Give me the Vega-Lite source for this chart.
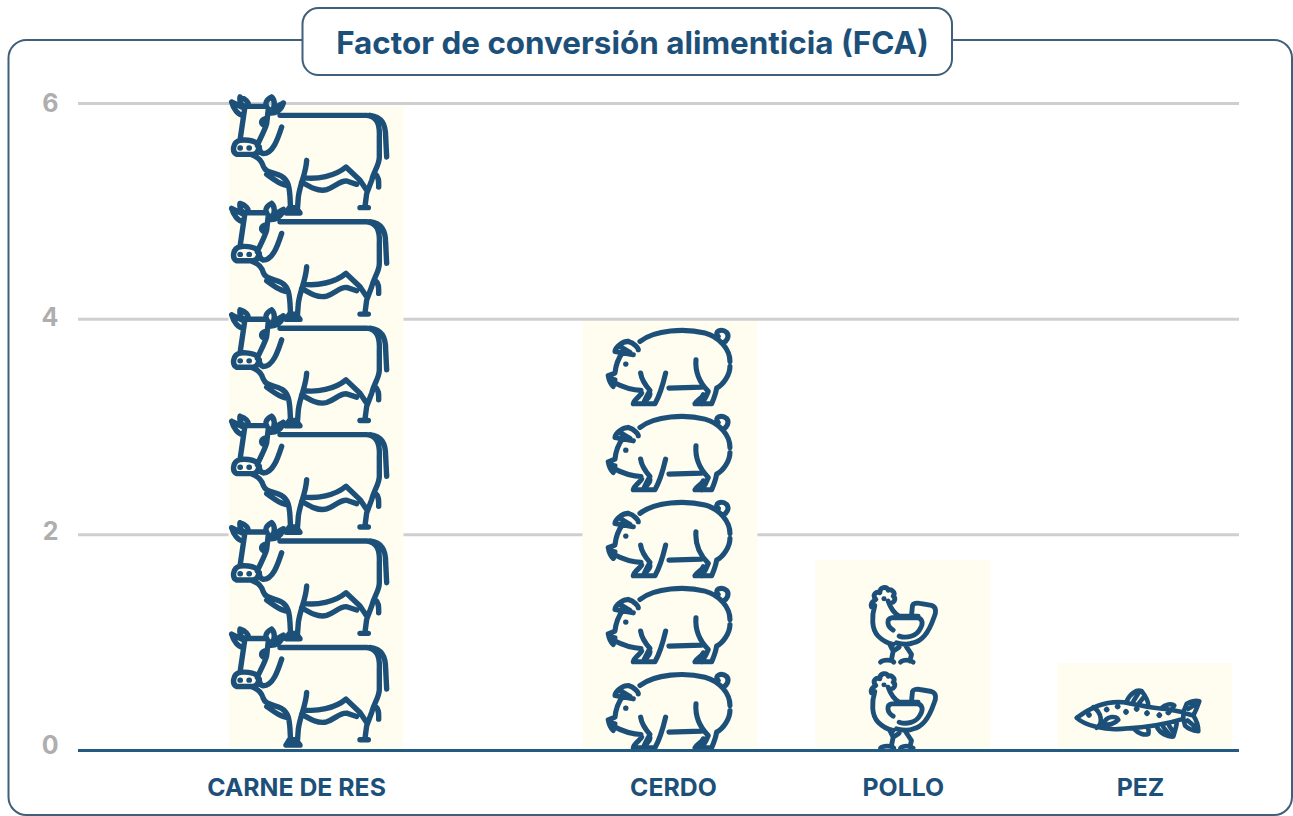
{"$schema":"https://vega.github.io/schema/vega-lite/v6.json","width":1293,"height":816,"padding":0,"autosize":{"type":"none"},"background":"white","config":{"view":{"stroke":null},"font":"Inter"},
"datasets":{"barras":[{"animal":"CARNE DE RES","fca":5.97},{"animal":"CERDO","fca":3.98},{"animal":"POLLO","fca":1.77},{"animal":"PEZ","fca":0.81}],
"iconos":[{"animal":"CARNE DE RES","centro":0.6},{"animal":"CARNE DE RES","centro":1.587},{"animal":"CARNE DE RES","centro":2.574},{"animal":"CARNE DE RES","centro":3.561},{"animal":"CARNE DE RES","centro":4.548},{"animal":"CARNE DE RES","centro":5.535},{"animal":"CERDO","centro":0.371},{"animal":"CERDO","centro":1.169},{"animal":"CERDO","centro":1.967},{"animal":"CERDO","centro":2.764},{"animal":"CERDO","centro":3.562},{"animal":"POLLO","centro":0.371},{"animal":"POLLO","centro":1.169},{"animal":"PEZ","centro":0.34}]},
"resolve":{"scale":{"x":"independent"},"axis":{"x":"independent","y":"independent"}},
"layer":[
{"data":{"values":[{"elemento":"marco"}]},"mark":{"type":"rect","fill":"white","stroke":"#3F5F7A","strokeWidth":2,"cornerRadius":18},
"encoding":{"x":{"datum":8.5,"type":"quantitative","scale":{"domain":[0,1293],"range":[0,1293]},"axis":null},"x2":{"datum":1292},"y":{"datum":6.589,"type":"quantitative","scale":{"domain":[-0.6074,6.96],"nice":false,"zero":false},"axis":null},"y2":{"datum":-0.598}}},
{"data":{"values":[{"fca":0},{"fca":2},{"fca":4},{"fca":6}]},"transform":[{"filter":"datum.fca>0"}],"mark":{"type":"rule","stroke":"#CFCFCF","strokeWidth":3},
"encoding":{"x":{"datum":78,"type":"quantitative","scale":{"domain":[0,1293],"range":[0,1293]},"axis":null},"x2":{"datum":1239},"y":{"field":"fca","type":"quantitative","scale":{"domain":[-0.6074,6.96],"nice":false,"zero":false},"axis":{"values":[0,2,4,6],"title":null,"grid":false,"domain":false,"ticks":false,"orient":"left","offset":-58,"zindex":1,"labelPadding":0,"labelFont":"Inter","labelFontSize":25,"labelFontWeight":700,"labelColor":"#AEAEAE","labelOffset":{"condition":[{"test":"datum.value==0","value":-5},{"test":"datum.value==2","value":-3},{"test":"datum.value==4","value":-2}],"value":0}}}}},
{"layer":[
{"data":{"name":"barras"},"mark":{"type":"bar","fill":"#FFFDEF","size":175},"encoding":{"x":{"field":"animal","type":"nominal","scale":{"type":"point","padding":0,"range":[316,1145],"domain":["CARNE DE RES","a01","a02","a03","a04","a05","a06","a07","a08","a09","a10","a11","a12","a13","a14","a15","a16","a17","a18","a19","a20","a21","a22","a23","a24","a25","a26","a27","a28","a29","a30","a31","a32","a33","a34","a35","a36","a37","CERDO","b01","b02","b03","b04","b05","b06","b07","b08","b09","b10","b11","b12","b13","b14","b15","b16","b17","b18","b19","b20","b21","b22","b23","b24","POLLO","c01","c02","c03","c04","c05","c06","c07","c08","c09","c10","c11","c12","c13","c14","c15","c16","c17","c18","c19","c20","c21","c22","c23","c24","c25","PEZ"]},"axis":{"values":["CARNE DE RES","CERDO","POLLO","PEZ"],"title":null,"orient":"bottom","offset":-66,"zindex":1,"domain":false,"ticks":false,"grid":false,"labelAngle":0,"labelPadding":25,"labelFont":"Inter","labelFontSize":24.8,"labelFontWeight":700,"labelColor":"#1D5079","labelOffset":{"condition":[{"test":"datum.value=='CARNE DE RES'","value":-20},{"test":"datum.value=='CERDO'","value":3},{"test":"datum.value=='PEZ'","value":-5}],"value":0}}},"y":{"field":"fca","type":"quantitative","scale":{"domain":[-0.6074,6.96],"nice":false,"zero":false},"axis":null}}},
{"data":{"name":"iconos"},"mark":{"type":"point","filled":false,"fill":null,"stroke":"#1D5079","strokeCap":"round","strokeJoin":"round","opacity":1,"size":0.4444},"encoding":{"x":{"field":"animal","type":"nominal"},"y":{"field":"centro","type":"quantitative","axis":null},
"strokeWidth":{"field":"animal","type":"nominal","legend":null,"scale":{"domain":["CARNE DE RES","CERDO","POLLO","PEZ"],"range":[5.4,4.6,3.6,3.6]}},
"shape":{"field":"animal","type":"nominal","legend":null,"scale":{"domain":["CARNE DE RES","CERDO","POLLO","PEZ"],"range":[
"M-108 -115L152 -115C182 -112 192 -90 190 -50L190 10C190 35 174 50 167 80L152 120L147 158M162 -115C197 -110 209 -90 209 -50L212 10M132 162L157 162M177 60C190 70 188 85 188 100M-28 20C-30 60 -48 90 -53 130L-56 170M-38 72C2 78 57 68 90 40L132 80L152 110M-43 85C-18 100 7 115 32 108C57 100 72 80 92 82L122 92M-213 -142L-148 -142M-213 -142L-228 -40M-143 -135L-148 -90C-153 -70 -173 -35 -176 -25M-228 -40C-250 -35 -253 -5 -238 2L-188 2C-173 0 -168 -20 -176 -30C-188 -42 -218 -42 -228 -40ZM-228 -17L-227 -17M-201 -17L-200 -17M-103 -80C-113 -50 -128 0 -158 0C-166 -2 -170 -10 -170 -20M-153 -105C-166 -100 -166 -90 -156 -85M-193 3C-173 10 -163 20 -158 38C-150 60 -123 55 -103 68C-83 80 -80 100 -78 130L-76 170M-148 62C-123 80 -103 95 -83 95M-90 178L-48 178L-60 162L-80 162ZM-228 -170C-230 -155 -226 -145 -213 -142M-228 -170C-213 -165 -200 -155 -203 -142M-253 -155C-248 -135 -233 -115 -218 -115M-253 -155L-223 -140M-133 -170C-150 -162 -153 -150 -148 -142M-133 -170C-123 -160 -123 -150 -128 -135M-98 -152C-103 -130 -123 -120 -138 -122M-98 -152L-128 -135",
"M-90 -75C-45 -110 45 -115 105 -100C150 -88 180 -50 180 -15M145 -90C130 -105 155 -115 170 -102C180 -90 170 -75 160 -70M180 0C180 25 160 55 140 65C137 85 130 100 125 112L75 112C80 102 97 95 100 85M78 -20C75 20 90 50 115 75C110 90 100 105 95 112M-3 65L95 62M-13 20C-20 50 -30 85 -45 112L-80 112C-75 100 -60 95 -60 82M-88 20C-85 40 -75 55 -60 72C-70 90 -75 100 -80 112L-110 112C-107 98 -90 90 -85 80M-175 45C-155 55 -125 72 -87 72M-140 -45C-155 -25 -163 0 -165 20L-185 28C-183 40 -175 55 -170 60M-185 28C-180 40 -170 40 -165 40M-125 -75C-145 -75 -165 -55 -165 -45L-110 -35M-125 -75C-107 -70 -95 -55 -95 -50M-150 -60L-120 -42M-133 -7L-132 -7",
"M-81 -75C-94 -90 -79 -100 -69 -95C-69 -113 -49 -115 -44 -103C-34 -107 -19 -95 -29 -85C-21 -80 -24 -70 -29 -67M-81 -75C-89 -70 -99 -65 -94 -53L-84 -57C-94 -25 -94 15 -74 35C-59 50 -44 57 -29 60M-44 -70C-37 -50 -29 -35 -11 -25L46 -25M26 -27L29 -57C31 -63 41 -65 51 -63L86 -57C101 -53 101 -35 93 -20C81 15 61 50 31 55C21 60 1 60 -19 55M-29 17C-49 5 -49 -17 -34 -20L46 -20C61 -15 61 0 51 15C41 35 11 43 -11 35M-39 60L-29 80L-34 105M6 60L26 90L21 110M-29 80L-11 68M-67 113C-59 105 -34 105 -27 113M-7 113C1 105 21 105 31 113M-57 -77L-56 -77",
"M-205 12C-170 -15 -120 -40 -65 -35C-20 -28 20 -15 60 -15L115 -5M-205 12C-180 35 -120 50 -70 45C-10 42 50 35 115 15M-155 -20C-130 -5 -125 30 -145 42M-170 3L-168 1L-166 3L-168 5ZM-117 -13L-115 -15L-113 -13L-115 -11ZM-84 -22L-82 -24L-80 -22L-82 -20ZM-59 -6L-57 -8L-55 -6L-57 -4ZM-27 -15L-25 -17L-23 -15L-25 -13ZM4 -2L6 -4L8 -2L6 0ZM41 4L43 2L45 4L43 6ZM68 -4L70 -6L72 -4L70 -2ZM-125 30C-115 5 -85 5 -80 18C-90 30 -110 35 -125 30M-55 -38C-45 -60 -25 -75 -10 -68C0 -55 10 -40 10 -25M-35 -38L-18 -65M-18 -32L-2 -52M50 -18C60 -28 80 -32 88 -25L78 -10M115 -5L125 -30C140 -38 155 -40 163 -38C155 -15 150 -5 145 5C155 20 160 35 160 52C145 50 130 45 120 35L115 15L115 -5M130 -15L150 -28M125 0L145 5M128 20L152 40M35 38C45 60 70 70 85 68C90 50 95 35 95 28M55 40L75 65M72 35L85 55M-30 48C-20 60 0 65 10 60C12 52 10 45 8 42"]}}}}
]},
{"data":{"values":[{"fca":0}]},"mark":{"type":"rule","stroke":"#235A82","strokeWidth":3},"encoding":{"x":{"datum":78,"type":"quantitative","scale":{"domain":[0,1293],"range":[0,1293]},"axis":null},"x2":{"datum":1239},"y":{"field":"fca","type":"quantitative","axis":null}}},
{"data":{"values":[{"elemento":"caja"}]},"mark":{"type":"rect","fill":"white","stroke":"#3F5F7A","strokeWidth":2,"cornerRadius":16},"encoding":{"x":{"datum":302.5,"type":"quantitative","scale":{"domain":[0,1293],"range":[0,1293]},"axis":null},"x2":{"datum":952},"y":{"datum":6.886,"type":"quantitative","axis":null},"y2":{"datum":6.264}}},
{"data":{"values":[{"titulo":"Factor de conversión alimenticia (FCA)"}]},"mark":{"type":"text","font":"Inter","fontSize":31.4,"fontWeight":700,"fill":"#1D5079","align":"center","baseline":"middle"},"encoding":{"x":{"datum":632.5,"type":"quantitative","scale":{"domain":[0,1293],"range":[0,1293]},"axis":null},"y":{"datum":6.543,"type":"quantitative","axis":null},"text":{"field":"titulo"}}}
]}
